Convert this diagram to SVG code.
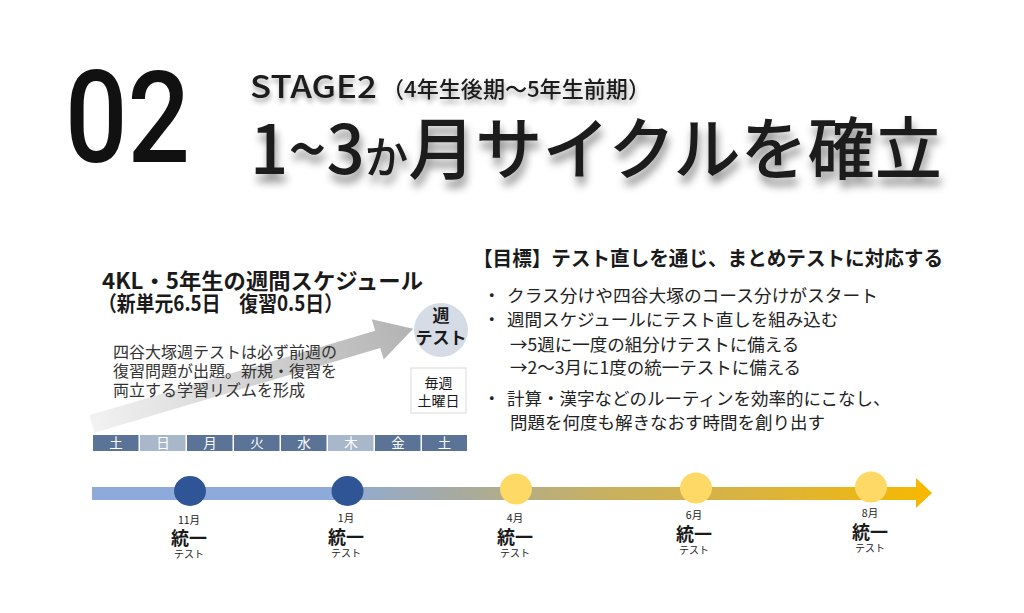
<svg xmlns="http://www.w3.org/2000/svg" width="1024" height="613" viewBox="0 0 1024 613">
<defs>
<filter id="shadow" x="-10%" y="-30%" width="120%" height="180%">
<feGaussianBlur in="SourceAlpha" stdDeviation="4"/>
<feOffset dx="2" dy="8" result="b"/>
<feFlood flood-color="#000" flood-opacity="0.45"/>
<feComposite in2="b" operator="in"/>
<feMerge><feMergeNode/><feMergeNode in="SourceGraphic"/></feMerge>
</filter>
<filter id="shadowS" x="-10%" y="-40%" width="120%" height="200%">
<feGaussianBlur in="SourceAlpha" stdDeviation="2.5"/>
<feOffset dx="1" dy="4" result="b"/>
<feFlood flood-color="#000" flood-opacity="0.35"/>
<feComposite in2="b" operator="in"/>
<feMerge><feMergeNode/><feMergeNode in="SourceGraphic"/></feMerge>
</filter>
<linearGradient id="grayArrow" x1="0" y1="0" x2="1" y2="0">
<stop offset="0" stop-color="#f2f2f2"/>
<stop offset="1" stop-color="#b3b3b3"/>
</linearGradient>
<linearGradient id="timeline" gradientUnits="userSpaceOnUse" x1="92" y1="0" x2="932" y2="0">
<stop offset="0" stop-color="#8eaadb"/>
<stop offset="0.28" stop-color="#8eaadb"/>
<stop offset="0.45" stop-color="#a9ab9a"/>
<stop offset="0.6" stop-color="#c6b063"/>
<stop offset="0.8" stop-color="#dcb33c"/>
<stop offset="1" stop-color="#f6b800"/>
</linearGradient>
<style>
text{font-family:"Noto Sans CJK JP","Noto Sans",sans-serif;fill:#1a1a1a}
.b{font-weight:700}
.m{font-weight:500}
.body{font-size:17.5px;fill:#222}
.arr{font-size:16px;fill:#333}
.day{font-size:13.5px;fill:#fff;text-anchor:middle}
.dark{fill:#5a7396}
.light{fill:#a9b7cb}
.mon{font-size:10.5px;text-anchor:middle}
.uni{font-size:18px;font-weight:700;text-anchor:middle}
.tst{font-size:10px;text-anchor:middle}
.blue{fill:#2f5597}
.yel{fill:#ffd966}
</style>
</defs>
<rect width="1024" height="613" fill="#fff"/>

<g id="title">
<text x="65" y="162" font-size="128" textLength="125" lengthAdjust="spacingAndGlyphs" style="font-family:Roboto,'DejaVu Sans',sans-serif;font-weight:500;fill:#111">02</text>
<g filter="url(#shadowS)">
<text x="250" y="98" font-size="31" class="m" textLength="127" lengthAdjust="spacingAndGlyphs">STAGE2</text>
<text x="382" y="97" font-size="22" class="m" textLength="268" lengthAdjust="spacingAndGlyphs">（4年生後期～5年生前期）</text>
</g>
<text x="250" y="174" class="m" font-size="68" filter="url(#shadow)" textLength="692" lengthAdjust="spacingAndGlyphs">1~3<tspan font-size="44">か</tspan>月サイクルを確立</text>
</g>

<g id="schedule-heading">
<text x="102" y="289" class="b" font-size="22" textLength="321" lengthAdjust="spacingAndGlyphs">4KL・5年生の週間スケジュール</text>
<text x="98" y="311" class="b" font-size="21" textLength="245" lengthAdjust="spacingAndGlyphs">（新単元6.5日　復習0.5日）</text>
</g>

<g id="growth-arrow">
<g transform="translate(92,424) rotate(-16.5)">
<polygon points="0,-9 298,-9 298,-21 335,0 298,21 298,9 0,9" fill="url(#grayArrow)"/>
</g>
<text x="113" y="358" class="arr">四谷大塚週テストは必ず前週の</text>
<text x="113" y="377" class="arr">復習問題が出題。新規・復習を</text>
<text x="113" y="396" class="arr">両立する学習リズムを形成</text>
</g>

<g id="weekly-test">
<circle cx="441" cy="330" r="27" fill="#d6dce5"/>
<text x="441" y="322" class="b" font-size="17" text-anchor="middle">週</text>
<text x="441" y="344" class="b" font-size="17" text-anchor="middle">テスト</text>
</g>

<g id="saturday-box">
<rect x="411" y="368" width="55" height="45" fill="#fff" stroke="#d9d9d9" stroke-width="1"/>
<text x="438.5" y="388" font-size="14" text-anchor="middle" fill="#333">毎週</text>
<text x="438.5" y="406" font-size="14" text-anchor="middle" fill="#333">土曜日</text>
</g>

<g id="day-bar">
<rect x="93" y="435" width="45.5" height="16" class="dark"/>
<rect x="140" y="435" width="45.5" height="16" class="light"/>
<rect x="187" y="435" width="45.5" height="16" class="dark"/>
<rect x="234" y="435" width="45.5" height="16" class="dark"/>
<rect x="281" y="435" width="45.5" height="16" class="dark"/>
<rect x="328" y="435" width="45.5" height="16" class="light"/>
<rect x="375" y="435" width="45.5" height="16" class="dark"/>
<rect x="422" y="435" width="45" height="16" class="dark"/>
<text x="116" y="448" class="day">土</text>
<text x="163" y="448" class="day">日</text>
<text x="210" y="448" class="day">月</text>
<text x="257" y="448" class="day">火</text>
<text x="304" y="448" class="day">水</text>
<text x="351" y="448" class="day">木</text>
<text x="398" y="448" class="day">金</text>
<text x="444.5" y="448" class="day">土</text>
</g>

<g id="goals">
<text x="473" y="266" class="b" font-size="20" textLength="470" lengthAdjust="spacingAndGlyphs">【目標】テスト直しを通じ、まとめテストに対応する</text>
<text x="483" y="302" class="body">・</text>
<text x="507" y="302" class="body" textLength="371" lengthAdjust="spacingAndGlyphs">クラス分けや四谷大塚のコース分けがスタート</text>
<text x="483" y="326" class="body">・</text>
<text x="507" y="326" class="body">週間スケジュールにテスト直しを組み込む</text>
<text x="510" y="351" class="body">→5週に一度の組分けテストに備える</text>
<text x="510" y="374" class="body">→2～3月に1度の統一テストに備える</text>
<text x="483" y="405" class="body">・</text>
<text x="507" y="405" class="body">計算・漢字などのルーティンを効率的にこなし、</text>
<text x="510" y="429" class="body">問題を何度も解きなおす時間を創り出す</text>
</g>

<g id="connectors">
<rect x="92" y="487" width="826" height="13" fill="url(#timeline)"/>
<polygon points="916,478 932,493 916,508" fill="#f6b800"/>
</g>

<g id="m11">
<ellipse cx="190" cy="491" rx="16" ry="15" class="blue"/>
<text x="189" y="524" class="mon">11月</text>
<text x="189" y="545" class="uni">統一</text>
<text x="189" y="558" class="tst">テスト</text>
</g>
<g id="m1">
<ellipse cx="347.5" cy="491" rx="16" ry="15" class="blue"/>
<text x="346" y="522" class="mon">1月</text>
<text x="346" y="544" class="uni">統一</text>
<text x="346" y="557" class="tst">テスト</text>
</g>
<g id="m4">
<ellipse cx="516" cy="489" rx="16" ry="15.5" class="yel"/>
<text x="515" y="522" class="mon">4月</text>
<text x="515" y="544" class="uni">統一</text>
<text x="515" y="557" class="tst">テスト</text>
</g>
<g id="m6">
<ellipse cx="696" cy="488" rx="16" ry="15.5" class="yel"/>
<text x="694" y="519" class="mon">6月</text>
<text x="694" y="541" class="uni">統一</text>
<text x="694" y="554" class="tst">テスト</text>
</g>
<g id="m8">
<ellipse cx="871" cy="487" rx="16" ry="15.5" class="yel"/>
<text x="870" y="517" class="mon">8月</text>
<text x="870" y="539" class="uni">統一</text>
<text x="870" y="552" class="tst">テスト</text>
</g>
</svg>
